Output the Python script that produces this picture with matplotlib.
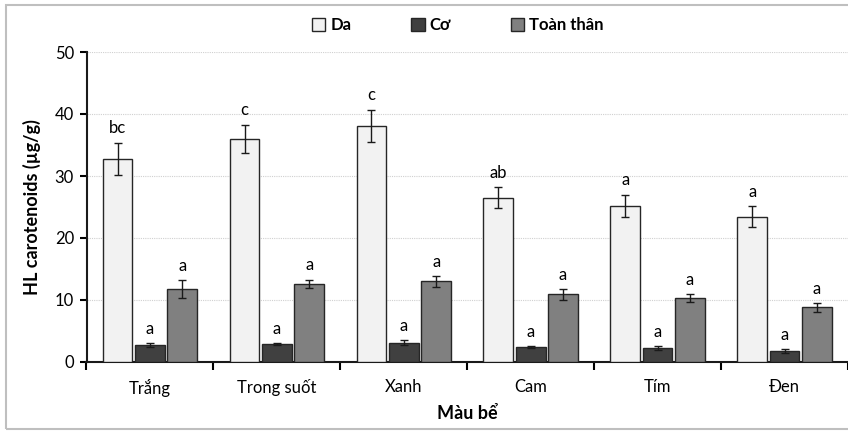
import numpy as np
import matplotlib
matplotlib.use("Agg")
import matplotlib.pyplot as plt
from matplotlib.patches import Rectangle

plt.rcParams['font.family'] = ['Lato', 'Noto Sans', 'DejaVu Sans']

# dữ liệu
nhom = ['Trắng', 'Trong suốt', 'Xanh', 'Cam', 'Tím', 'Đen']
chuoi = ['Da', 'Cơ', 'Toàn thân']
da = [32.8, 36.0, 38.1, 26.5, 25.2, 23.4]
co = [2.8, 2.9, 3.1, 2.4, 2.3, 1.8]
toan_than = [11.8, 12.6, 13.0, 10.9, 10.3, 8.8]
sd_da = [2.6, 2.3, 2.6, 1.7, 1.8, 1.7]
sd_co = [0.3, 0.2, 0.4, 0.2, 0.3, 0.3]
sd_tt = [1.4, 0.7, 0.9, 0.85, 0.7, 0.7]
chu_da = ['bc', 'c', 'c', 'ab', 'a', 'a']
chu_co = ['a'] * 6
chu_tt = ['a'] * 6

mau = ['#f2f2f2', '#404040', '#808080']

fig = plt.figure(figsize=(8.48, 4.32), dpi=100)
# khung viền ngoài
fig.patches.append(Rectangle((6 / 848, 3 / 432), 1.0, 424 / 432, transform=fig.transFigure,
                             fill=False, edgecolor='#bfbfbf', linewidth=1.5, zorder=0))

left = 86.5 / 848
ax = fig.add_axes([left, 70 / 432, 1 - left, 310 / 432])

x = np.arange(len(nhom))
w = 0.234
buoc = 0.255
gia_tri = [da, co, toan_than]
sai_so = [sd_da, sd_co, sd_tt]
chu = [chu_da, chu_co, chu_tt]
for k in range(3):
    xs = x + (k - 1) * buoc
    ax.bar(xs, gia_tri[k], width=w, color=mau[k], edgecolor='#262626', linewidth=1.0,
           label=chuoi[k], zorder=3)
    ax.errorbar(xs, gia_tri[k], yerr=sai_so[k], fmt='none', ecolor='#1a1a1a',
                elinewidth=1.0, capsize=3, capthick=1.0, zorder=4)
    for xi, v, e, t in zip(xs, gia_tri[k], sai_so[k], chu[k]):
        ax.text(xi, v + e + 1.0, t, ha='center', va='bottom', fontsize=12, zorder=5)

ax.set_xlim(-0.5, -0.5 + (848 - 86.5) / 128.3)
ax.set_ylim(0, 50)
ax.set_yticks([0, 10, 20, 30, 40, 50])
ax.yaxis.grid(True, linestyle=(0, (1, 1)), color='#d0d0d0', linewidth=0.8, zorder=0)
ax.set_axisbelow(True)

ax.set_xticks(np.arange(len(nhom) + 1) - 0.5)
ax.set_xticklabels([])
ax.set_xticks(x, minor=True)
ax.set_xticklabels(nhom, minor=True, fontsize=12)
ax.tick_params(axis='x', which='major', length=6, width=1.5, direction='out')
ax.tick_params(axis='x', which='minor', length=0, pad=12)
ax.tick_params(axis='y', length=5, width=1.5, labelsize=12, pad=4)

for s in ['top', 'right']:
    ax.spines[s].set_visible(False)
for s in ['left', 'bottom']:
    ax.spines[s].set_linewidth(1.5)
    ax.spines[s].set_color('#1a1a1a')

ax.set_ylabel('HL carotenoids (µg/g)', fontsize=13, fontweight='bold', labelpad=10)
ax.set_xlabel('Màu bể', fontsize=13, fontweight='bold', labelpad=6)

fig.legend(loc='center', bbox_to_anchor=(458 / 848, 1 - 25 / 432), ncol=3, frameon=False,
           prop={'weight': 'bold', 'size': 12}, handlelength=0.8, handleheight=0.8,
           handletextpad=0.3, columnspacing=3.6)

fig.savefig('out.png', dpi=100)
